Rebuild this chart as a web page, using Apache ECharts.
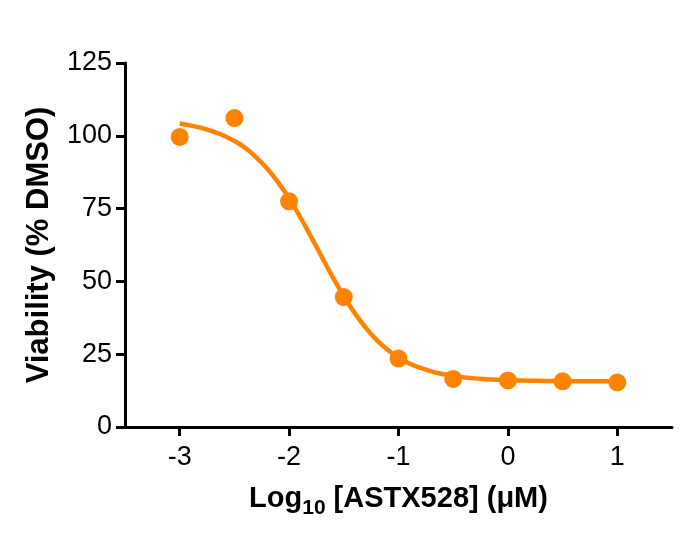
<!DOCTYPE html>
<html>
<head>
<meta charset="utf-8">
<script src="https://cdn.jsdelivr.net/npm/echarts@6/dist/echarts.min.js"></script>
<style>html,body{margin:0;padding:0;background:#fff}#c{width:694px;height:540px}</style>
</head>
<body>
<div id="c"></div>
<script>
// Measured points
const pointX = [-3, -2.5, -2, -1.5, -1, -0.5, 0, 0.5, 1];
const pointY = [99.6, 106.1, 77.5, 44.6, 23.5, 16.5, 16.0, 15.7, 15.3];
// Fitted curve
const curveX = [-3.0,-2.9,-2.8,-2.7,-2.6,-2.5,-2.4,-2.3,-2.2,-2.1,-2.0,-1.9,-1.8,-1.7,-1.6,-1.5,-1.4,-1.3,-1.2,-1.1,-1.0,-0.9,-0.8,-0.7,-0.6,-0.5,-0.4,-0.3,-0.2,-0.1,0.0,0.1,0.2,0.3,0.4,0.5,0.6,0.7,0.8,0.9,1.0];
const curveY = [104.2,103.5,102.7,101.5,100.1,98.2,95.8,92.6,88.7,84.0,78.5,72.2,65.4,58.3,51.4,44.9,39.1,34.1,29.9,26.5,23.9,21.8,20.3,19.1,18.2,17.5,17.0,16.7,16.4,16.2,16.1,16.0,15.9,15.85,15.8,15.8,15.75,15.75,15.7,15.7,15.7];
const xTicks = [-3, -2, -1, 0, 1];
const yTicks = [0, 25, 50, 75, 100, 125];

const color = '#FF8200';
const font = "'Liberation Sans', Arial, sans-serif";

const chart = echarts.init(document.getElementById('c'), null, {renderer: 'canvas'});
chart.setOption({
  animation: false,
  backgroundColor: '#fff',
  grid: {left: 125, right: 22, top: 63, bottom: 113, containLabel: false},
  xAxis: {
    type: 'value', min: -3.5, max: 1.5,
    splitLine: {show: false},
    axisLine: {show: true, onZero: false, lineStyle: {color: '#000', width: 3}},
    axisTick: {show: true, length: 9, lineStyle: {color: '#000', width: 3}, customValues: xTicks},
    axisLabel: {fontFamily: font, fontSize: 27, color: '#000', margin: 17, customValues: xTicks},
    name: '{a|Log}{sub|10}{a| [ASTX528] (μM)}',
    nameLocation: 'middle', nameGap: 51,
    nameTextStyle: {
      rich: {
        a: {fontFamily: font, fontSize: 29, fontWeight: 'bold', color: '#000'},
        sub: {fontFamily: font, fontSize: 21, fontWeight: 'bold', color: '#000', padding: [20, 0, 0, 0]}
      }
    }
  },
  yAxis: {
    type: 'value', min: yTicks[0], max: yTicks[yTicks.length - 1], interval: 25,
    splitLine: {show: false},
    axisLine: {show: true, onZero: false, lineStyle: {color: '#000', width: 3}},
    axisTick: {show: true, length: 9, lineStyle: {color: '#000', width: 3}},
    axisLabel: {fontFamily: font, fontSize: 27, color: '#000', margin: 13},
    name: 'Viability (% DMSO)',
    nameLocation: 'middle', nameGap: 70, nameRotate: 90,
    nameTextStyle: {fontFamily: font, fontSize: 31, fontWeight: 'bold', color: '#000'}
  },
  series: [
    {
      type: 'line', smooth: true, showSymbol: false, silent: true,
      data: curveX.map((x, i) => [x, curveY[i]]),
      lineStyle: {color: color, width: 4.5}
    },
    {
      type: 'scatter', symbol: 'circle', symbolSize: 18,
      data: pointX.map((x, i) => [x, pointY[i]]),
      itemStyle: {color: color, opacity: 1}
    }
  ]
});
</script>
</body>
</html>
